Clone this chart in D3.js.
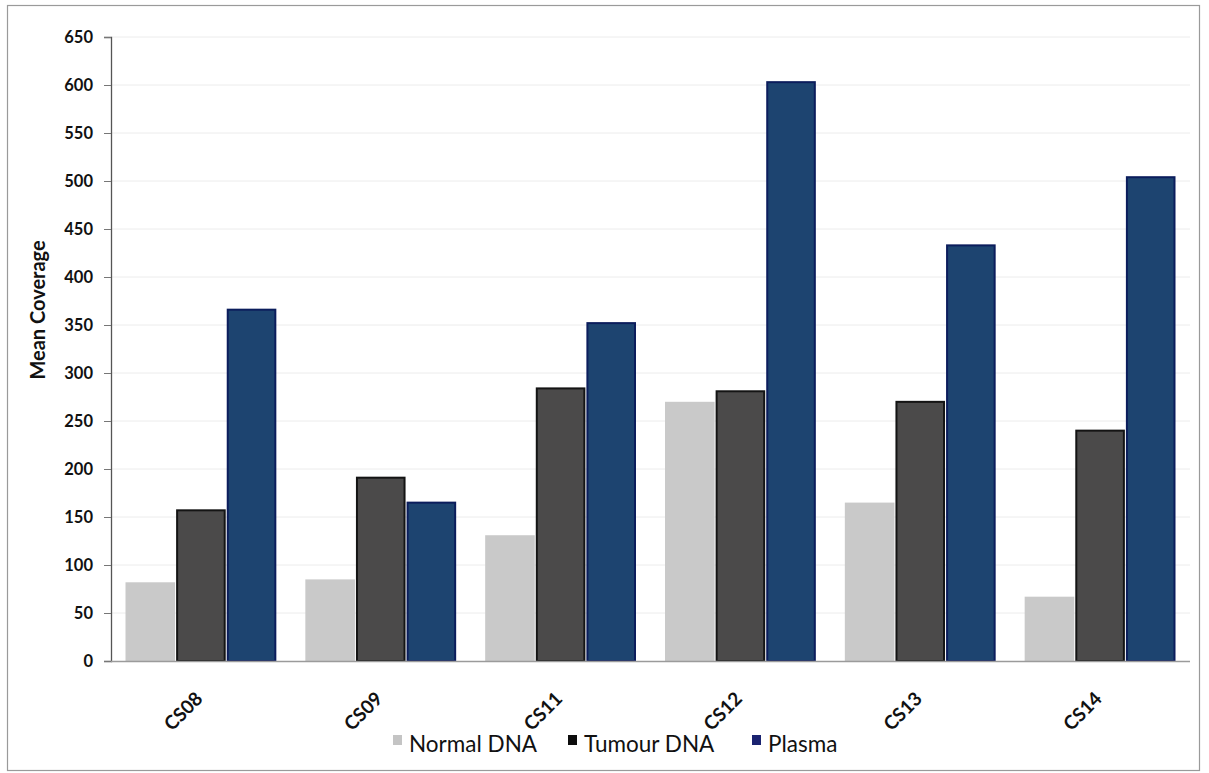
<!DOCTYPE html>
<html>
<head>
<meta charset="utf-8">
<script src="https://cdn.jsdelivr.net/npm/d3@7"></script>
<style>
  html, body { margin: 0; padding: 0; background: #fff; }
  svg { display: block; font-family: Lato, "Open Sans", sans-serif; }
</style>
</head>
<body>
<svg id="chart" width="1209" height="773"></svg>
<script>
// Samples and mean coverage per sequencing source
const samples = ["CS08", "CS09", "CS11", "CS12", "CS13", "CS14"];
const seriesNames = ["Normal DNA", "Tumour DNA", "Plasma"];
const normalDNA = [82, 85, 131, 270, 165, 67];
const tumourDNA = [158, 192, 285, 282, 271, 241];
const plasma = [367, 166, 353, 604, 434, 505];
const yTicks = [0, 50, 100, 150, 200, 250, 300, 350, 400, 450, 500, 550, 600, 650];

const seriesValues = [normalDNA, tumourDNA, plasma];
const fills = ["#c9c9c9", "#4b4a4a", "#1d4470"];
const strokes = ["none", "#141414", "#0b1d5c"];

const svg = d3.select("#chart");
const plotLeft = 111, plotRight = 1190, plotTop = 37, plotBottom = 661;

// outer frame
svg.append("rect")
  .attr("x", 7.5).attr("y", 5.5)
  .attr("width", 1192).attr("height", 765)
  .attr("fill", "#fff").attr("stroke", "#9a9a9a").attr("stroke-width", 1.2);

const y = d3.scaleLinear().domain([0, 650]).range([plotBottom, plotTop]);
const x0 = d3.scaleBand().domain(samples).range([plotLeft, plotRight])
  .paddingInner(0.15).paddingOuter(0.075);
const x1 = d3.scaleBand().domain(seriesNames).range([0, x0.bandwidth()]).padding(0.02);

// gridlines
svg.append("g")
  .selectAll("line")
  .data(yTicks.filter(d => d > 0))
  .join("line")
  .attr("x1", plotLeft).attr("x2", plotRight)
  .attr("y1", d => y(d)).attr("y2", d => y(d))
  .attr("stroke", "#ececec").attr("stroke-width", 1);

// bars
const rows = samples.map((s, i) => ({ sample: s, values: seriesNames.map((n, k) => ({ name: n, k, v: seriesValues[k][i] })) }));
const groups = svg.append("g").selectAll("g")
  .data(rows).join("g")
  .attr("transform", d => `translate(${x0(d.sample)},0)`);
groups.selectAll("rect")
  .data(d => d.values)
  .join("rect")
  .attr("x", d => x1(d.name) + (d.k ? 1 : 0))
  .attr("width", d => x1.bandwidth() - (d.k ? 2 : 0))
  .attr("y", d => y(d.v) + (d.k ? 1 : 0))
  .attr("height", d => plotBottom - y(d.v) - (d.k ? 1 : 0))
  .attr("fill", d => fills[d.k])
  .attr("stroke", d => strokes[d.k])
  .attr("stroke-width", 2);

// y axis
const yAxis = d3.axisLeft(y).tickValues(yTicks).tickSize(7).tickPadding(11);
const gy = svg.append("g").attr("transform", `translate(${plotLeft},0)`).call(yAxis);
gy.select(".domain").attr("stroke", "#555").attr("stroke-width", 1.3);
gy.selectAll(".tick line").attr("stroke", "#777");
gy.selectAll(".tick text")
  .attr("fill", "#111").attr("font-size", 16.5).attr("font-weight", 700)
  .attr("font-family", "Lato, sans-serif");

// x axis
const xAxis = d3.axisBottom(x0).tickSize(0).tickPadding(0);
const gx = svg.append("g").attr("transform", `translate(0,${plotBottom})`).call(xAxis);
gx.select(".domain").attr("stroke", "#9b9b9b").attr("stroke-width", 1.5)
  .attr("d", `M${plotLeft},0.5H${plotRight}`);
gx.selectAll(".tick text")
  .attr("fill", "#111").attr("font-size", 19).attr("font-weight", 700)
  .attr("font-family", "Lato, sans-serif")
  .attr("text-anchor", "end")
  .attr("dy", 0).attr("y", 0)
  .attr("transform", "translate(3,39) rotate(-45)");

// y axis title
svg.append("text")
  .attr("transform", "translate(45,310) rotate(-90)")
  .attr("text-anchor", "middle")
  .attr("font-size", 20).attr("font-weight", 700)
  .attr("fill", "#111")
  .text("Mean Coverage");

// legend
const legendX = [393, 568, 752];
const legend = svg.append("g").selectAll("g")
  .data(seriesNames).join("g")
  .attr("transform", (d, i) => `translate(${legendX[i]},735)`);
legend.append("rect")
  .attr("width", 9).attr("height", 10)
  .attr("fill", (d, i) => i === 0 ? "#c4c4c4" : i === 1 ? "#0d0d0d" : "#1a2370");
legend.append("text")
  .attr("x", 16).attr("y", 17)
  .attr("font-size", 22.5).attr("fill", "#111")
  .text(d => d);
</script>
</body>
</html>
